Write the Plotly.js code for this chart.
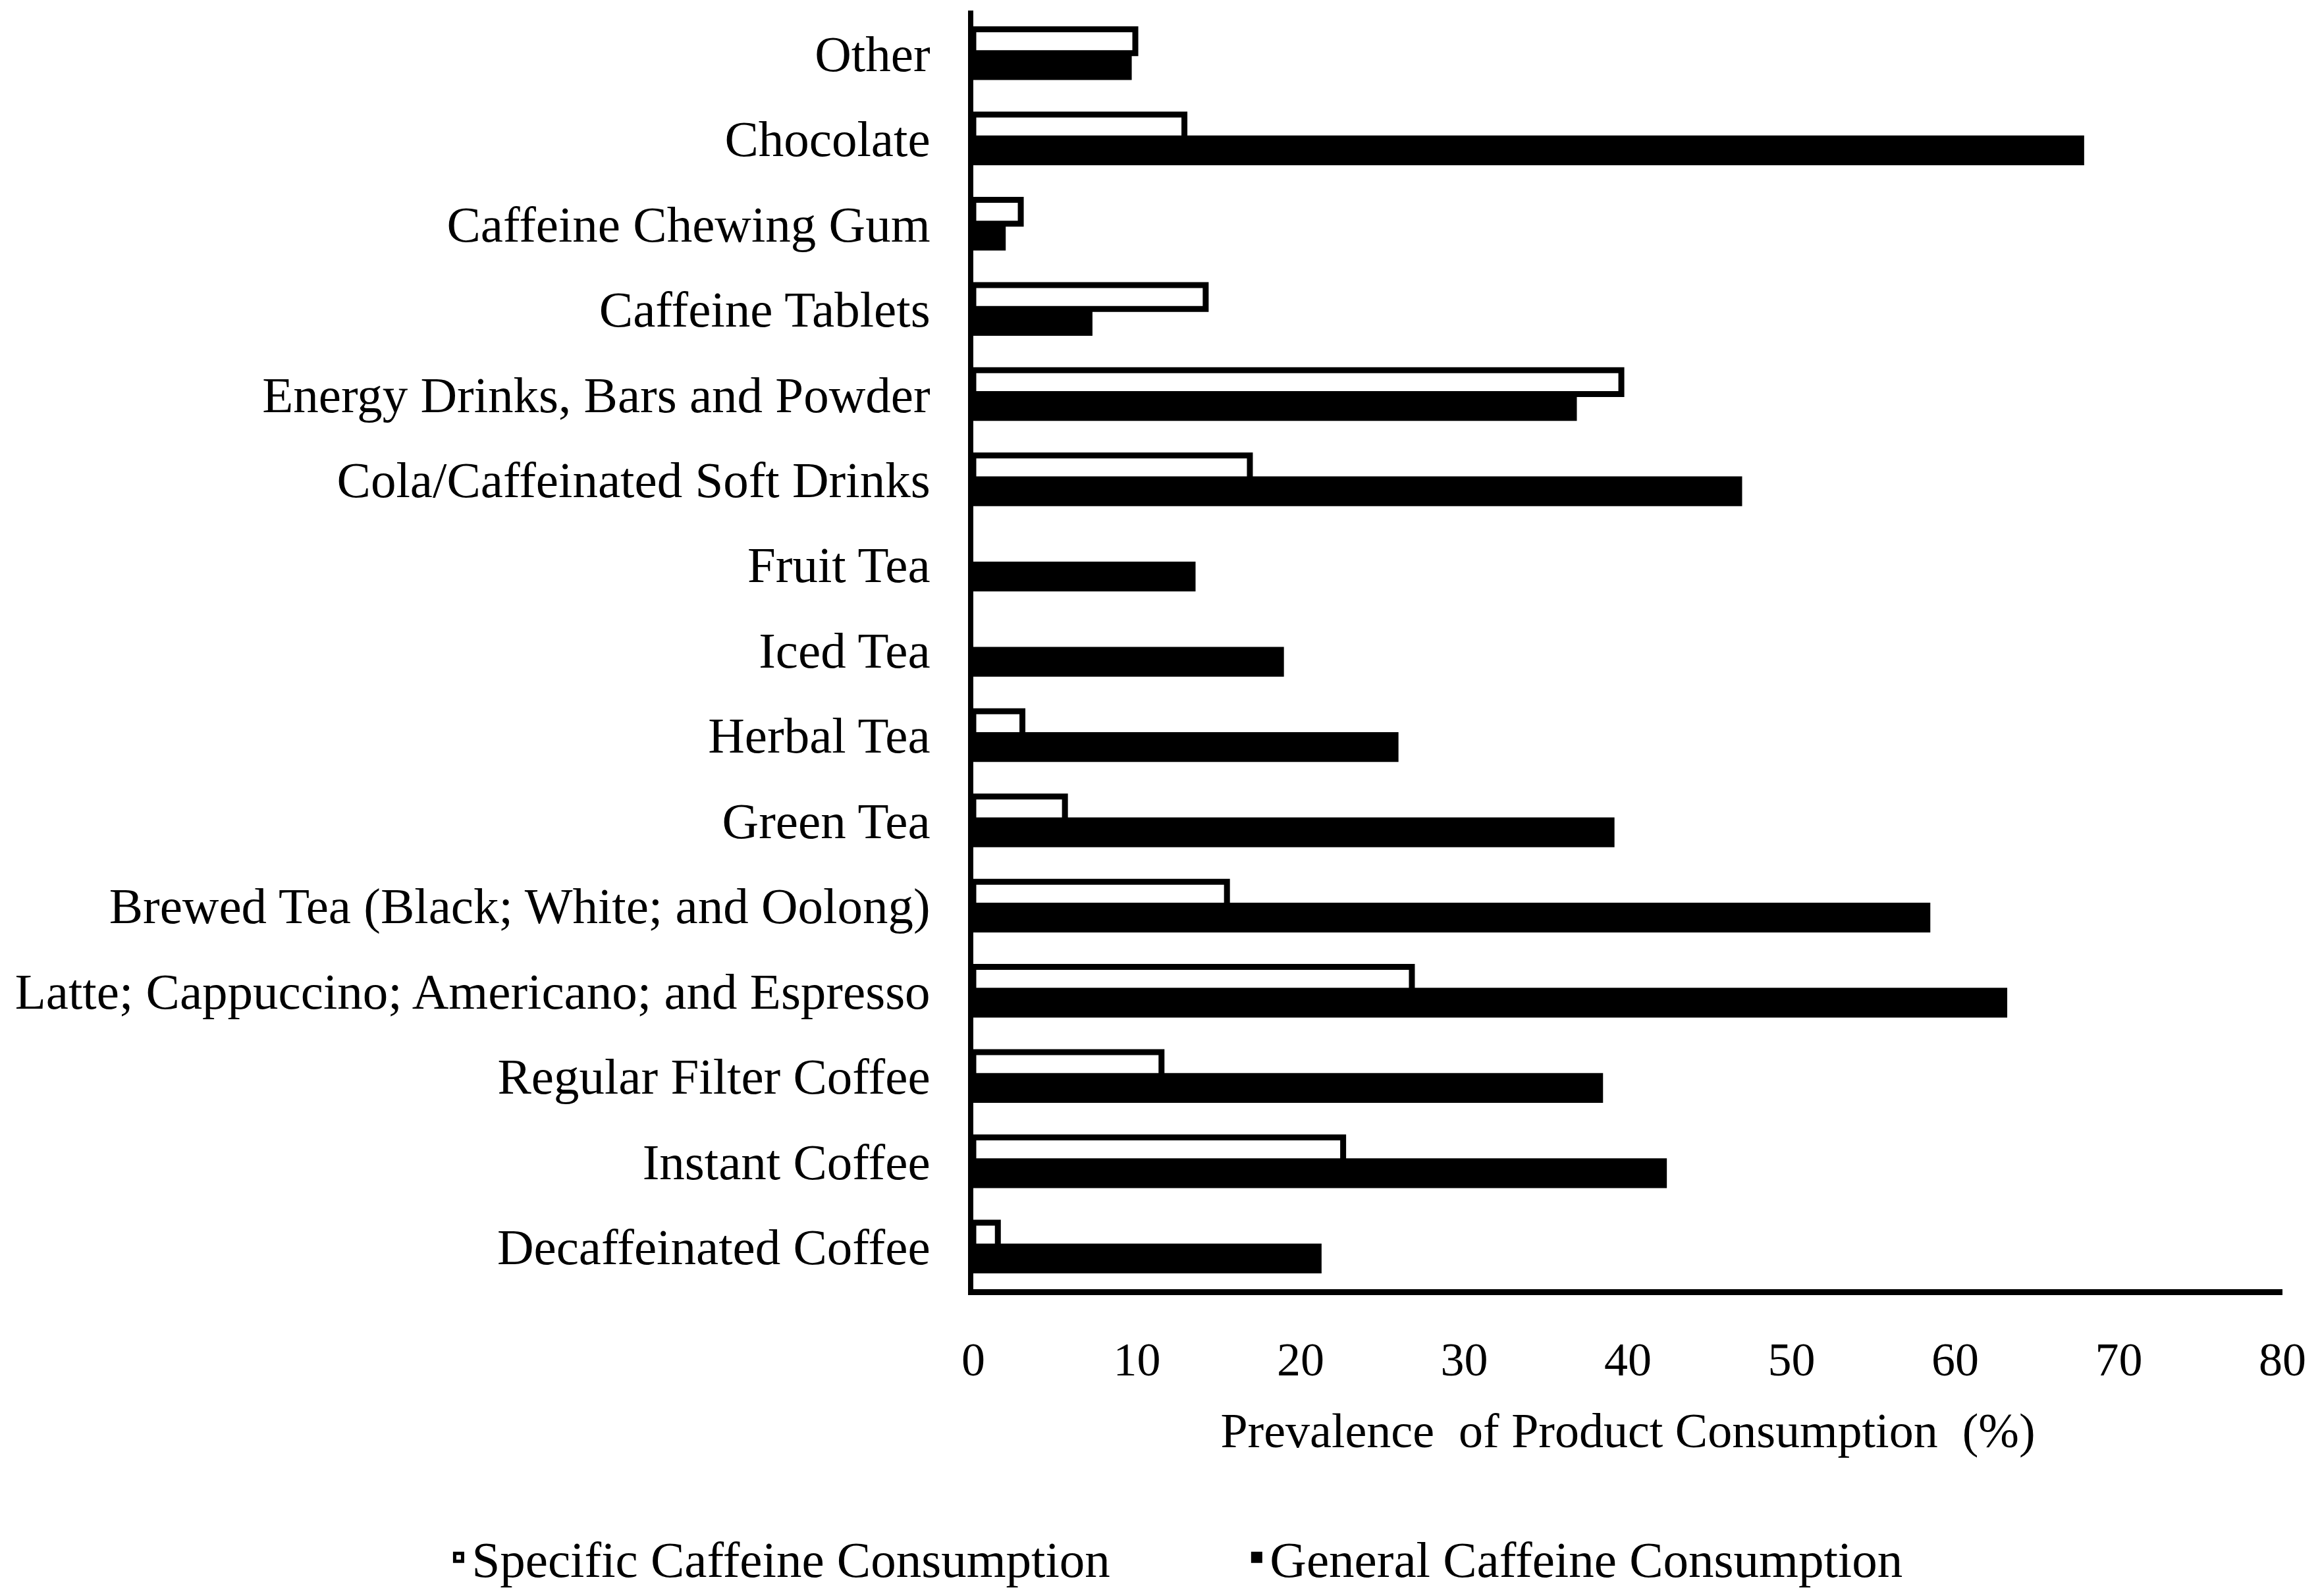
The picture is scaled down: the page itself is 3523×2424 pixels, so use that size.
<!DOCTYPE html>
<html>
<head>
<meta charset="utf-8">
<script src="https://cdn.plot.ly/plotly-3.0.1.min.js"></script>
<style>html,body{margin:0;padding:0;background:#fff;}#chart{width:3523px;height:2424px;}</style>
</head>
<body>
<div id="chart"></div>
<script>
// Categories listed bottom to top
const categories = [
  "Decaffeinated Coffee",
  "Instant Coffee",
  "Regular Filter Coffee",
  "Latte; Cappuccino; Americano; and Espresso",
  "Brewed Tea (Black; White; and Oolong)",
  "Green Tea",
  "Herbal Tea",
  "Iced Tea",
  "Fruit Tea",
  "Cola/Caffeinated Soft Drinks",
  "Energy Drinks, Bars and Powder",
  "Caffeine Tablets",
  "Caffeine Chewing Gum",
  "Chocolate",
  "Other"
];
const specificValues = [1.5, 22.6, 11.5, 26.8, 15.5, 5.6, 3.0, 0, 0, 16.9, 39.6, 14.2, 2.9, 12.9, 9.9];
const generalValues  = [21.1, 42.2, 38.3, 63.0, 58.3, 39.0, 25.8, 18.8, 13.4, 46.8, 36.7, 7.1, 1.8, 67.7, 9.5];
const xTickValues = [0, 10, 20, 30, 40, 50, 60, 70, 80];
const seriesNames = ["Specific Caffeine Consumption", "General Caffeine Consumption"];

const FONT = "Liberation Serif, Times New Roman, serif";
const OUTLINE = 9;

const traces = [
  {
    type: "bar", orientation: "h",
    name: seriesNames[1], y: categories, x: generalValues,
    marker: {color: "#000000", line: {color: "#000000", width: generalValues.map(v => v > 0 ? OUTLINE : 0)}},
    legend: "legend2", hoverinfo: "x+y"
  },
  {
    type: "bar", orientation: "h",
    name: seriesNames[0], y: categories, x: specificValues,
    marker: {color: "#ffffff", line: {color: "#000000", width: specificValues.map(v => v > 0 ? OUTLINE : 0)}},
    legend: "legend", hoverinfo: "x+y"
  }
];

const legendFont = {family: FONT, size: 77, color: "#000000"};

const layout = {
  width: 3523, height: 2424,
  paper_bgcolor: "#ffffff", plot_bgcolor: "#ffffff",
  font: {family: FONT, color: "#000000", size: 72},
  margin: {l: 1478, r: 57, t: 16, b: 466, pad: 0},
  barmode: "group",
  bargap: 0.44,
  bargroupgap: 0,
  showlegend: true,
  legend: {
    orientation: "h",
    xref: "container", yref: "container",
    x: 0.192, xanchor: "left",
    y: 0.024, yanchor: "middle",
    font: legendFont,
    itemwidth: 30
  },
  legend2: {
    orientation: "h",
    xref: "container", yref: "container",
    x: 0.536, xanchor: "left",
    y: 0.024, yanchor: "middle",
    font: legendFont,
    itemwidth: 30
  },
  xaxis: {
    range: [0, 80],
    tickvals: xTickValues,
    ticktext: xTickValues.map(String),
    ticks: "",
    showgrid: false, zeroline: false,
    showline: true, linecolor: "#000000", linewidth: 9,
    tickfont: {family: FONT, size: 72, color: "#000000"},
    ticklabelstandoff: 36,
    title: {text: "Prevalence  of Product Consumption  (%)", font: {family: FONT, size: 74, color: "#000000"}, standoff: 45},
    fixedrange: true
  },
  yaxis: {
    type: "category",
    categoryorder: "array", categoryarray: categories,
    range: [-0.5, 14.5],
    ticks: "",
    showgrid: false, zeroline: false,
    showline: true, linecolor: "#000000", linewidth: 8,
    tickfont: {family: FONT, size: 77, color: "#000000"},
    ticklabelstandoff: 42,
    fixedrange: true
  }
};

Plotly.newPlot("chart", traces, layout, {displayModeBar: false, staticPlot: true});
</script>
</body>
</html>
